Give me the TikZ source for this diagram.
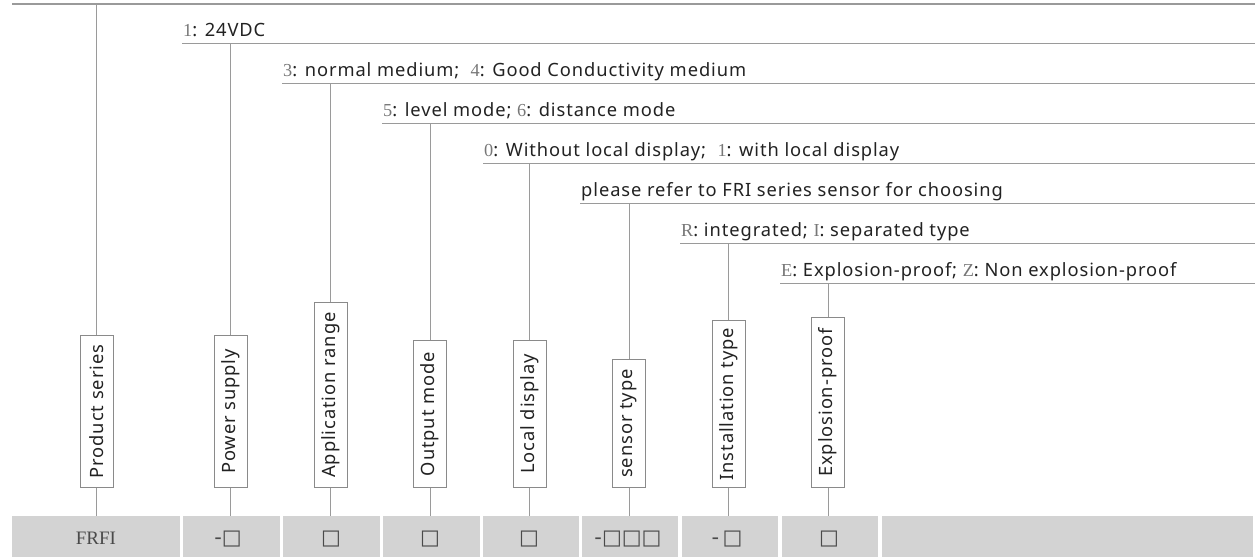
\documentclass[tikz,border=0pt]{standalone}
\usepackage{fontspec}
\setmainfont[LetterSpace=5]{Noto Sans}
\newfontfamily\numfont{Liberation Serif}
\newfontfamily\symfont{DejaVu Sans}
\definecolor{linegray}{HTML}{9A9A9A}
\definecolor{boxgray}{HTML}{8A8A8A}
\definecolor{txtcol}{HTML}{222222}
\definecolor{numcol}{HTML}{777777}
\definecolor{bargray}{HTML}{D3D3D3}
\definecolor{symcol}{HTML}{4A4A4A}
\newcommand{\txtf}{\fontsize{18.3}{18.3}\selectfont}
\newcommand{\nm}[1]{{\numfont\color{numcol}#1}}
\begin{document}
\begin{tikzpicture}[x=1pt,y=-1pt,
  hl/.style={draw=linegray,line width=1.1pt},
  conn/.style={draw=linegray,line width=1pt},
  opt/.style={anchor=base west,inner sep=0pt,font=\txtf,text=txtcol},
  vbox/.style={draw=boxgray,line width=0.8pt,fill=white,rotate=90,anchor=west,
    font=\txtf,text=txtcol,inner sep=0pt,minimum width=#1,minimum height=33pt},
  cell/.style={fill=bargray,draw=none,inner sep=0pt},
  celltxt/.style={font=\symfont\fontsize{21}{21}\selectfont,text=symcol,anchor=center}]
\useasboundingbox (0,0) rectangle (1255,557);

% bottom bar cells
\node[cell,minimum width=168pt,minimum height=41pt] (c1) at (96,536.5) {};
\node[cell,minimum width=97pt,minimum height=41pt] (c2) at (231.5,536.5) {};
\node[cell,minimum width=97pt,minimum height=41pt] (c3) at (331.5,536.5) {};
\node[cell,minimum width=97pt,minimum height=41pt] (c4) at (431.5,536.5) {};
\node[cell,minimum width=96pt,minimum height=41pt] (c5) at (531,536.5) {};
\node[cell,minimum width=96pt,minimum height=41pt] (c6) at (630,536.5) {};
\node[cell,minimum width=96pt,minimum height=41pt] (c7) at (730,536.5) {};
\node[cell,minimum width=96pt,minimum height=41pt] (c8) at (830,536.5) {};
\node[cell,minimum width=371pt,minimum height=41pt] (c9) at (1067.5,536.5) {};

\node[font=\numfont\fontsize{19}{19}\selectfont,text=symcol] at (96,538) {FRFI};
\node[celltxt] at (228,539) {-□};
\node[celltxt] at (331,539) {□};
\node[celltxt] at (430,539) {□};
\node[celltxt] at (529,539) {□};
\node[celltxt] at (628,539) {-□□□};
\node[celltxt] at (727,539) {-\,□};
\node[celltxt] at (829,539) {□};

% horizontal option lines
\coordinate (s0) at (12,4);    \coordinate (e0) at (1255,4);
\coordinate (s1) at (182,43.5); \coordinate (e1) at (1255,43.5);
\coordinate (s2) at (282,83.5); \coordinate (e2) at (1255,83.5);
\coordinate (s3) at (382,123.5); \coordinate (e3) at (1255,123.5);
\coordinate (s4) at (483,163.5); \coordinate (e4) at (1255,163.5);
\coordinate (s5) at (580,203.5); \coordinate (e5) at (1255,203.5);
\coordinate (s6) at (680,243.5); \coordinate (e6) at (1255,243.5);
\coordinate (s7) at (780,283.5); \coordinate (e7) at (1255,283.5);
\foreach \i in {0,...,7} {\draw[hl] (s\i) -- (e\i);}

\node[opt] (o1) at (183,36.5) {\nm{1}: 24VDC};
\node[opt] (o2) at (283,76.5) {\nm{3}: normal medium;\ \ \nm{4}: Good Conductivity medium};
\node[opt] (o3) at (383,116.5) {\nm{5}: level mode; \nm{6}: distance mode};
\node[opt] (o4) at (484,156.5) {\nm{0}: Without local display;\ \ \nm{1}: with local display};
\node[opt] (o5) at (581,196.5) {please refer to FRI series sensor for choosing};
\node[opt] (o6) at (681,236.5) {\nm{R}: integrated; \nm{I}: separated type};
\node[opt] (o7) at (781,276.5) {\nm{E}: Explosion-proof; \nm{Z}: Non explosion-proof};

% vertical label boxes
\node[vbox=152] (b1) at (96.5,488) {Product series};
\node[vbox=152] (b2) at (230.5,488) {Power supply};
\node[vbox=185] (b3) at (330.5,488) {Application range};
\node[vbox=147] (b4) at (430,488) {Output mode};
\node[vbox=147] (b5) at (529.5,488) {Local display};
\node[vbox=128] (b6) at (629,488) {sensor type};
\node[vbox=167] (b7) at (728.5,488) {Installation type};
\node[vbox=170] (b8) at (828,488) {Explosion-proof};

% connectors
\coordinate (t1) at (96.5,4);
\coordinate (t2) at (230.5,43.5);
\coordinate (t3) at (330.5,83.5);
\coordinate (t4) at (430,123.5);
\coordinate (t5) at (529.5,163.5);
\coordinate (t6) at (629,203.5);
\coordinate (t7) at (728.5,243.5);
\coordinate (t8) at (828,283.5);
\foreach \i in {1,...,8} {
  \draw[conn] (t\i) -- (b\i.east);
  \draw[conn] (b\i.west) -- (b\i.west |- c\i.north);
}
\end{tikzpicture}
\end{document}
